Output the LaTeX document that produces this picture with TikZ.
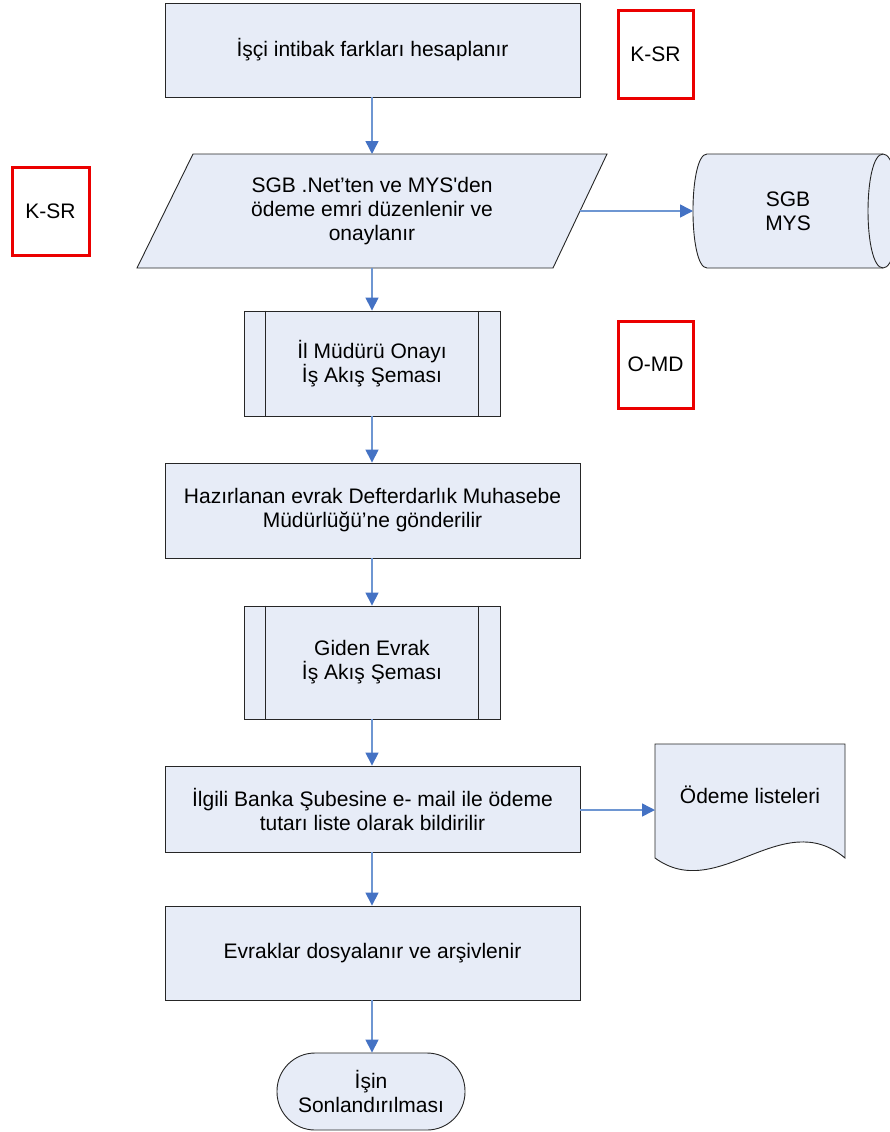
\documentclass[tikz,border=0pt]{standalone}
\usepackage{fontspec}
\setmainfont{Liberation Sans}
\usetikzlibrary{arrows.meta}
\newcommand\straightq{\XeTeXglyph\XeTeXcharglyph"0027\relax}
\definecolor{fillc}{RGB}{231,236,247}
\definecolor{linec}{RGB}{110,150,210}
\definecolor{tipc}{RGB}{68,114,196}
\definecolor{redc}{RGB}{235,0,0}
\tikzset{
  base/.style={font=\fontsize{21}{24}\selectfont, align=center, inner sep=0pt},
  proc/.style={base, draw=black!85, fill=fillc, line width=0.9pt, minimum width=415pt},
  subp/.style={base, draw=black!85, fill=fillc, line width=0.9pt, minimum width=256pt},
  redbox/.style={base, draw=redc, fill=white, line width=3pt, minimum width=75pt, minimum height=87pt},
  shp/.style={draw=black!85, fill=fillc, line width=0.9pt},
  arr/.style={draw=linec, line width=1.5pt, -{Triangle[length=13pt,width=13pt,color=tipc]}},
  term/.style={base, draw=black!85, fill=fillc, line width=0.9pt, minimum width=188pt, minimum height=77pt, rounded corners=38pt}
}
\begin{document}
\begin{tikzpicture}[x=1pt,y=-1pt]
\useasboundingbox (0,0) rectangle (890,1132);
% boxes
\node[proc, minimum height=94pt] (n1) at (372.5,50) {İşçi intibak farkları hesaplanır};
\node[redbox] (ksr1) at (655.5,54.5) {K-SR};
% parallelogram
\draw[shp] (193,154) -- (607,154) -- (553,268) -- (137,268) -- cycle;
\node[base, minimum width=300pt, minimum height=114pt] (n2) at (372,211) {SGB .Net’ten ve MYS\straightq den\\ödeme emri düzenlenir ve\\onaylanır};
\coordinate (n2e) at (580,211);
\node[redbox, minimum width=77pt, minimum height=88pt] (ksr2) at (50.5,211) {K-SR};
% cylinder
\draw[shp] (707,154) -- (883,154) .. controls (903,154) and (903,268) .. (883,268) -- (707,268) .. controls (688.3,268) and (688.3,154) .. (707,154) -- cycle;
\draw[black!85, line width=0.9pt] (883,154) .. controls (863,154) and (863,268) .. (883,268);
\node[base] (cyl) at (788,211) {SGB\\MYS};
\coordinate (cylw) at (693,211);
% subprocess 1
\node[subp, minimum height=105pt] (n3) at (372,363.5) {İl Müdürü Onayı\\İş Akış Şeması};
\draw[black!85, line width=0.9pt] ([xshift=22pt]n3.north west) -- ([xshift=22pt]n3.south west)
  ([xshift=-22pt]n3.north east) -- ([xshift=-22pt]n3.south east);
\node[redbox] (omd) at (655.5,364.5) {O-MD};
\node[proc, minimum height=95pt] (n4) at (372.5,510.5) {Hazırlanan evrak Defterdarlık Muhasebe\\Müdürlüğü’ne gönderilir};
% subprocess 2
\node[subp, minimum height=113pt] (n5) at (372,662.5) {Giden Evrak\\İş Akış Şeması};
\draw[black!85, line width=0.9pt] ([xshift=22pt]n5.north west) -- ([xshift=22pt]n5.south west)
  ([xshift=-22pt]n5.north east) -- ([xshift=-22pt]n5.south east);
\node[proc, minimum height=86pt] (n6) at (372.5,809) {İlgili Banka Şubesine e- mail ile ödeme\\tutarı liste olarak bildirilir};
% document
\draw[shp] (655,858) -- (655,744) -- (845,744) -- (845,858) .. controls (782,805) and (718,904) .. (655,858) -- cycle;
\node[base] (doc) at (750,795) {Ödeme listeleri};
\coordinate (docw) at (655,810);
\node[proc, minimum height=94pt] (n7) at (372.5,953) {Evraklar dosyalanır ve arşivlenir};
\node[term] (n8) at (371,1091.5) {İşin\\Sonlandırılması};
% connectors
\coordinate (p2n) at (372,154);
\coordinate (p2s) at (372,268);
\draw[arr] (n1.south -| p2n) -- (p2n);
\draw[arr] (p2s) -- (n3.north -| p2s);
\draw[arr] (n3.south -| p2s) -- (n4.north -| p2s);
\draw[arr] (n4.south -| p2s) -- (n5.north -| p2s);
\draw[arr] (n5.south -| p2s) -- (n6.north -| p2s);
\draw[arr] (n6.south -| p2s) -- (n7.north -| p2s);
\draw[arr] (n7.south -| p2s) -- (n8.north -| p2s);
\draw[arr] (n2e) -- (cylw);
\draw[arr] (n6.east |- docw) -- (docw);
\end{tikzpicture}
\end{document}
